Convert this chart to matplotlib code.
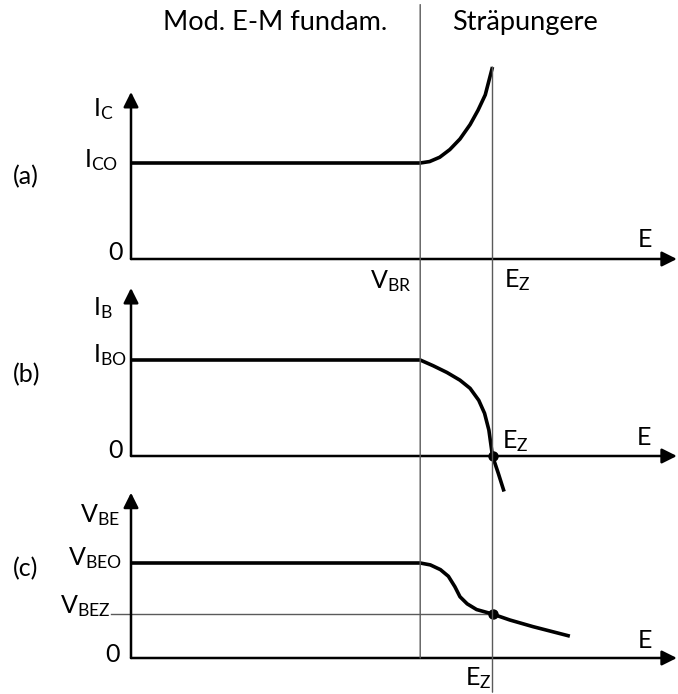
import matplotlib
matplotlib.use('Agg')
import matplotlib.pyplot as plt
from matplotlib.patches import ConnectionPatch

plt.rcParams['font.family'] = ['Lato', 'DejaVu Sans']
plt.rcParams['mathtext.fontset'] = 'custom'
plt.rcParams['mathtext.rm'] = 'Lato'

# field axis: breakdown voltage and zener point
V_BR = 4.0
E_Z = 5.0
E_MAX = 7.55

# (a) collector current I_C(E)
ic_E = [0.0, 4.0, 4.13, 4.27, 4.41, 4.55, 4.69, 4.80, 4.90, 5.0]
ic_I = [1.0, 1.0, 1.015, 1.06, 1.14, 1.25, 1.40, 1.55, 1.71, 2.0]

# (b) base current I_B(E)
ib_E = [0.0, 4.0, 4.18, 4.37, 4.55, 4.69, 4.81, 4.89, 4.95, 5.0, 5.08, 5.16]
ib_I = [1.0, 1.0, 0.94, 0.87, 0.79, 0.705, 0.58, 0.445, 0.27, 0.0, -0.18, -0.37]

# (c) base-emitter voltage V_BE(E)
vbe_E = [0.0, 4.0, 4.14, 4.28, 4.39, 4.48, 4.55, 4.65, 4.78, 5.0, 5.24, 5.56, 6.07]
vbe_V = [1.0, 1.0, 0.98, 0.93, 0.86, 0.75, 0.645, 0.57, 0.51, 0.463, 0.40, 0.33, 0.23]
V_BEZ = 0.463

Y_TOP = [1.74, 1.75, 1.74]  # length of the vertical axes

W, H = 678, 694
X0, SX = 131, 72.3   # pixel of E=0, pixels per E unit
FS = 18

fig = plt.figure(figsize=(W / 100, H / 100), dpi=100)


def panel(zero_px, sy, top_px, bot_px):
    ax = fig.add_axes([0, 1 - bot_px / H, 1, (bot_px - top_px) / H])
    ax.set_xlim(-X0 / SX, (W - X0) / SX)
    ax.set_ylim((zero_px - bot_px) / sy, (zero_px - top_px) / sy)
    ax.axis('off')
    return ax


def draw_axes(ax, ytop):
    arrow = dict(arrowstyle='-|>,head_length=0.6,head_width=0.3', color='black',
                 lw=1.8, mutation_scale=15, shrinkA=0, shrinkB=0)
    ax.annotate('', xy=(E_MAX, 0), xytext=(0, 0), arrowprops=arrow, annotation_clip=False)
    ax.annotate('', xy=(0, ytop), xytext=(0, 0), arrowprops=arrow, annotation_clip=False)


def label(ax, x, y, s, ha='left', fs=FS):
    ax.text(x, y, s, ha=ha, va='baseline', fontsize=fs, color='black')


ax_a = panel(259, 96, 0, 270)
ax_b = panel(456, 96, 270, 470)
ax_c = panel(658, 95, 470, 694)

for ax, yt in zip([ax_a, ax_b, ax_c], Y_TOP):
    draw_axes(ax, yt)

# vertical guide lines through all three panels
thin = dict(color='#5a5a5a', lw=1.0)
fig.add_artist(ConnectionPatch(xyA=(V_BR, 0), coordsA=ax_c.transData,
                               xyB=(V_BR, 2.65), coordsB=ax_a.transData, **thin))
fig.add_artist(ConnectionPatch(xyA=(E_Z, -0.36), coordsA=ax_c.transData,
                               xyB=(E_Z, ic_I[-1]), coordsB=ax_a.transData, **thin))
ax_c.plot([-0.28, E_Z], [V_BEZ, V_BEZ], **thin)

# curves
ax_a.plot(ic_E, ic_I, color='black', lw=2.6, clip_on=False, solid_capstyle='butt')
ax_b.plot(ib_E, ib_I, color='black', lw=2.6, clip_on=False, solid_capstyle='butt')
ax_c.plot(vbe_E, vbe_V, color='black', lw=2.6, clip_on=False, solid_capstyle='butt')
ax_b.plot([E_Z], [0], 'o', color='black', ms=6.5, clip_on=False)
ax_c.plot([E_Z], [V_BEZ], 'o', color='black', ms=6.5, clip_on=False)

# region titles
label(ax_a, 2.0, 2.39, 'Mod. E-M fundam.', ha='center', fs=19.5)
label(ax_a, 5.45, 2.39, 'Sträpungere', ha='center', fs=19.5)

# (a)
label(ax_a, -1.63, 0.78, '(a)')
label(ax_a, -0.53, 1.49, r'$\mathregular{I_C}$')
label(ax_a, -0.18, 0.96, r'$\mathregular{I_{CO}}$', ha='right')
label(ax_a, -0.12, -0.01, '0', ha='right')
label(ax_a, 7.11, 0.125, 'E', ha='center')
label(ax_a, 3.88, -0.30, r'$\mathregular{V_{BR}}$', ha='right')
label(ax_a, 5.16, -0.29, r'$\mathregular{E_Z}$')

# (b)
label(ax_b, -1.63, 0.77, '(b)')
label(ax_b, -0.53, 1.47, r'$\mathregular{I_B}$')
label(ax_b, -0.055, 0.98, r'$\mathregular{I_{BO}}$', ha='right')
label(ax_b, -0.12, -0.02, '0', ha='right')
label(ax_b, 7.1, 0.115, 'E', ha='center')
label(ax_b, 5.13, 0.083, r'$\mathregular{E_Z}$')

# (c)
label(ax_c, -1.63, 0.86, '(c)')
label(ax_c, -0.71, 1.43, r'$\mathregular{V_{BE}}$')
label(ax_c, -0.87, 0.98, r'$\mathregular{V_{BEO}}$')
label(ax_c, -0.98, 0.47, r'$\mathregular{V_{BEZ}}$')
label(ax_c, -0.15, -0.04, '0', ha='right')
label(ax_c, 7.11, 0.105, 'E', ha='center')
label(ax_c, 4.98, -0.284, r'$\mathregular{E_Z}$', ha='right')

fig.savefig('out.png', dpi=100, facecolor='white')
